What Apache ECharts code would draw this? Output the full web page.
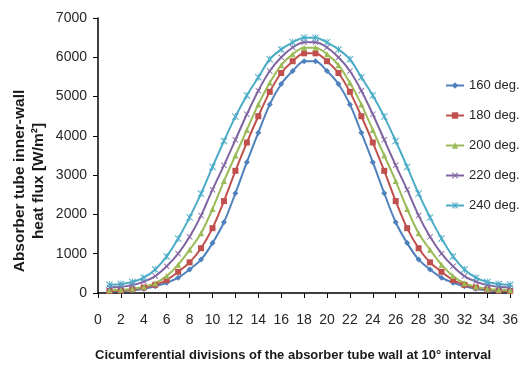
<!DOCTYPE html>
<html>
<head>
<meta charset="utf-8">
<script src="https://cdn.jsdelivr.net/npm/echarts@6/dist/echarts.min.js"></script>
<style>html,body{margin:0;padding:0;background:#fff}#c{width:521px;height:367px}</style>
</head>
<body>
<div id="c"></div>
<script>
var divisions = [1,2,3,4,5,6,7,8,9,10,11,12,13,14,15,16,17,18,19,20,21,22,23,24,25,26,27,28,29,30,31,32,33,34,35,36];
var seriesNames = ['160 deg.','180 deg.','200 deg.','220 deg.','240 deg.'];
var flux160 = [40,50,70,110,170,260,390,600,850,1270,1800,2540,3330,4080,4800,5320,5650,5900,5900,5650,5320,4800,4080,3330,2540,1800,1270,850,600,390,260,170,110,70,50,40];
var flux180 = [50,60,90,140,210,330,540,780,1140,1650,2340,3110,3830,4500,5120,5600,5900,6100,6100,5900,5600,5120,4500,3830,3110,2340,1650,1140,780,540,330,210,140,90,60,50];
var flux200 = [70,80,110,160,250,430,720,1100,1520,2140,2850,3500,4150,4800,5350,5800,6080,6240,6240,6080,5800,5350,4800,4150,3500,2850,2140,1520,1100,720,430,250,160,110,80,70];
var flux220 = [140,160,200,290,430,680,1000,1430,1970,2630,3250,3900,4550,5150,5650,6000,6250,6380,6380,6250,6000,5650,5150,4550,3900,3250,2630,1970,1430,1000,680,430,290,200,160,140];
var flux240 = [210,230,280,390,600,930,1385,1925,2530,3210,3870,4490,5030,5490,5950,6200,6380,6500,6500,6380,6200,5950,5490,5030,4490,3870,3210,2530,1925,1385,930,600,390,280,230,210];
var xTicks = {min:0, max:36, interval:2};
var yTicks = {min:0, max:7000, interval:1000};
var xTitle = 'Cicumferential divisions of the absorber tube wall at 10° interval';
var yTitle = 'Absorber tube inner-wall\nheat flux [W/m²]';

var colors = ['#4F81BD','#C0504D','#9BBB59','#8064A2','#4BACC6'];
var xPath = 'path://M0,1 L1,0 L5,4 L9,0 L10,1 L6,5 L10,9 L9,10 L5,6 L1,10 L0,9 L4,5 Z';
var starPath = 'path://M0,1 L1,0 L5,4 L9,0 L10,1 L6,5 L10,9 L9,10 L5,6 L1,10 L0,9 L4,5 Z M4.4,0 L5.6,0 L5.6,10 L4.4,10 Z';
var symbols = ['diamond','rect','triangle',xPath,starPath];
var sizes = [6,6,6,6,7];
var allData = [flux160,flux180,flux200,flux220,flux240];
var font = 'Liberation Sans, Arial, sans-serif';

var chart = echarts.init(document.getElementById('c'), null, {renderer:'canvas'});
chart.setOption({
  animation:false,
  color: colors,
  grid:{left:98, right:5, top:18, bottom:68, containLabel:false},
  legend:{
    orient:'vertical', left:440, top:74, itemGap:17, itemWidth:18, itemHeight:8,
    textStyle:{fontSize:13, color:'#262626', fontFamily:font},
    data: seriesNames
  },
  graphic:[{
    type:'text', x:29.5, y:181, rotation:Math.PI/2,
    style:{text:yTitle, font:'bold 15.5px Liberation Sans, Arial, sans-serif', fill:'#1a1a1a',
      textAlign:'center', textVerticalAlign:'middle', lineHeight:19}
  }],
  xAxis:{
    type:'value', min:xTicks.min, max:xTicks.max, interval:xTicks.interval,
    name:xTitle,
    nameLocation:'middle', nameGap:56,
    nameTextStyle:{fontSize:13, fontWeight:'bold', color:'#1a1a1a', fontFamily:font, padding:[0,22,0,0]},
    axisLine:{lineStyle:{color:'#000', width:1.5}},
    axisTick:{show:true, length:5, lineStyle:{color:'#000'}},
    axisLabel:{fontSize:14, color:'#262626', fontFamily:font, margin:20},
    splitLine:{show:false}
  },
  yAxis:{
    type:'value', min:yTicks.min, max:yTicks.max, interval:yTicks.interval,
    axisLine:{show:true, lineStyle:{color:'#000', width:1.5}},
    axisTick:{show:true, length:5, lineStyle:{color:'#000'}},
    axisLabel:{fontSize:14, color:'#262626', fontFamily:font, margin:11,
      formatter:function(v){return String(v);}},
    splitLine:{show:false}
  },
  series: seriesNames.map(function(n,i){
    return {
      name:n, type:'line', smooth:0.3,
      symbol:symbols[i], symbolSize:sizes[i], showSymbol:true,
      lineStyle:{width:2, color:colors[i]},
      itemStyle:{color:colors[i]},
      data: divisions.map(function(d,k){return [d, allData[i][k]];})
    };
  })
});
</script>
</body>
</html>
